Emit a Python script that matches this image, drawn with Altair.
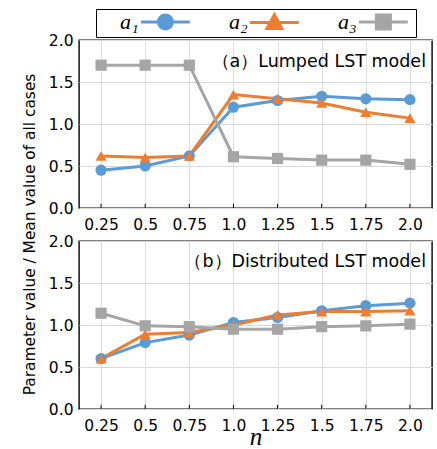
import altair as alt
import pandas as pd

n_labels = ["0.25", "0.5", "0.75", "1.0", "1.25", "1.5", "1.75", "2.0"]
series = ["a₁", "a₂", "a₃"]
colors = ["#5B9BD5", "#ED7D31", "#A5A5A5"]
shapes = ["circle", "triangle-up", "square"]

lumped_a1 = [0.45, 0.50, 0.62, 1.20, 1.28, 1.33, 1.30, 1.29]
lumped_a2 = [0.62, 0.60, 0.62, 1.35, 1.30, 1.25, 1.14, 1.07]
lumped_a3 = [1.70, 1.70, 1.70, 0.61, 0.59, 0.57, 0.57, 0.52]

dist_a1 = [0.60, 0.79, 0.88, 1.03, 1.09, 1.17, 1.23, 1.26]
dist_a2 = [0.60, 0.89, 0.91, 1.00, 1.12, 1.16, 1.16, 1.17]
dist_a3 = [1.14, 0.99, 0.98, 0.95, 0.95, 0.98, 0.99, 1.01]


def make_df(vals):
    rows = []
    for s, v in zip(series, vals):
        for n, y in zip(n_labels, v):
            rows.append({"n": n, "series": s, "value": y})
    return pd.DataFrame(rows)


df_a = make_df([lumped_a1, lumped_a2, lumped_a3])
df_b = make_df([dist_a1, dist_a2, dist_a3])
df_ticks = pd.DataFrame({"n": n_labels})
df_legend = pd.DataFrame({"series": series})

FONT = "DejaVu Sans"

# legend glyphs: a line with the marker, drawn to the right of the label
C = 14.1
H = 6.1
R = 1.75
legend_paths = [
    f"M{C-H},0H{C+H}M{C+R},0A{R},{R},0,1,1,{C-R},0A{R},{R},0,1,1,{C+R},0Z",
    f"M{C-H},0H{C+H}M{C},-1.95L{C+1.85},1.55L{C-1.85},1.55Z",
    f"M{C-H},0H{C+H}M{C-R},-{R}H{C+R}V{R}H{C-R}Z",
]

legend = alt.Legend(
    title=None,
    orient="none",
    legendX=17,
    legendY=-31,
    direction="horizontal",
    labelFont="Liberation Serif",
    labelFontStyle="italic",
    labelFontSize=22,
    labelColor="black",
    labelOffset=0,
    symbolSize=64,
    symbolStrokeWidth=3,
    symbolOpacity=1,
    columnPadding=11,
    strokeColor="black",
    padding=2,
)

color_scale = alt.Scale(domain=series, range=colors)


def panel(df, label, label_y, show_x_title, show_y_title, with_legend):
    x_axis = alt.Axis(
        labelFont=FONT, labelFontSize=15.5, labelColor="black", labelAngle=0,
        ticks=False, domain=False, labelPadding=9,
        title="n" if show_x_title else None,
        titleFont="Liberation Serif", titleFontStyle="italic", titleFontWeight="normal",
        titleFontSize=25, titleColor="black", titlePadding=-9.5,
    )
    y_axis_kwargs = dict(
        values=[0, 0.5, 1.0, 1.5, 2.0], format=".1f",
        labelFont=FONT, labelFontSize=15.5, labelColor="black",
        ticks=False, domain=False, gridColor="#D9D9D9", gridWidth=1.2,
        labelPadding=6,
    )
    if show_y_title:
        y_axis = alt.Axis(
            title="Parameter value / Mean value of all cases",
            titleFont=FONT, titleFontSize=15.4, titleFontWeight="normal",
            titleColor="black", titleY=-7, titlePadding=11, **y_axis_kwargs,
        )
    else:
        y_axis = alt.Axis(title=None, **y_axis_kwargs)

    x = alt.X("n:O", sort=n_labels, scale=alt.Scale(type="point", padding=0.5), axis=x_axis)
    y = alt.Y("value:Q", scale=alt.Scale(domain=[0, 2]), axis=y_axis)
    color = alt.Color("series:N", scale=color_scale, legend=None)

    ticks = alt.Chart(df_ticks).mark_rule(color="black", strokeWidth=1).encode(
        x=x, y=alt.datum(0), y2=alt.datum(0.05)
    )
    lines = alt.Chart(df).mark_line(strokeWidth=3).encode(
        x=x, y=y, color=color, detail="series:N"
    )
    layers = [ticks, lines]
    for s, shp in zip(series, shapes):
        layers.append(
            alt.Chart(df).transform_filter(alt.datum.series == s)
            .mark_point(filled=True, size=125, opacity=1, shape=shp)
            .encode(x=x, y=y, color=color)
        )
    text = alt.Chart(pd.DataFrame({"t": [label]})).mark_text(
        font=FONT, fontSize=17.5, align="right", baseline="alphabetic", color="black"
    ).encode(x=alt.value(347), y=alt.value(label_y), text="t:N")
    layers.append(text)
    if with_legend:
        leg = alt.Chart(df_legend).mark_point(
            filled=True, strokeWidth=3, opacity=0
        ).encode(
            x=alt.value(0), y=alt.value(0),
            fill=alt.Fill("series:N", scale=color_scale, legend=legend),
            stroke=alt.Stroke("series:N", scale=color_scale, legend=legend),
            shape=alt.Shape("series:N", scale=alt.Scale(domain=series, range=legend_paths), legend=legend),
        )
        layers.append(leg)
    return alt.layer(*layers).properties(width=353, height=168)


top = panel(df_a, "（a）Lumped LST model", 27, False, False, True)
bottom = panel(df_b, "（b）Distributed LST model", 26, True, True, False)

chart = alt.vconcat(top, bottom, spacing=33, bounds="flush").resolve_legend(
    fill="independent", stroke="independent", shape="independent"
).properties(
    padding={"left": 21, "top": 7, "right": 2, "bottom": 0}
).configure_view(
    stroke="black", strokeWidth=1.4
).configure_axis(grid=True)

chart.save("out.html", embed_options={"renderer": "svg", "actions": False})
